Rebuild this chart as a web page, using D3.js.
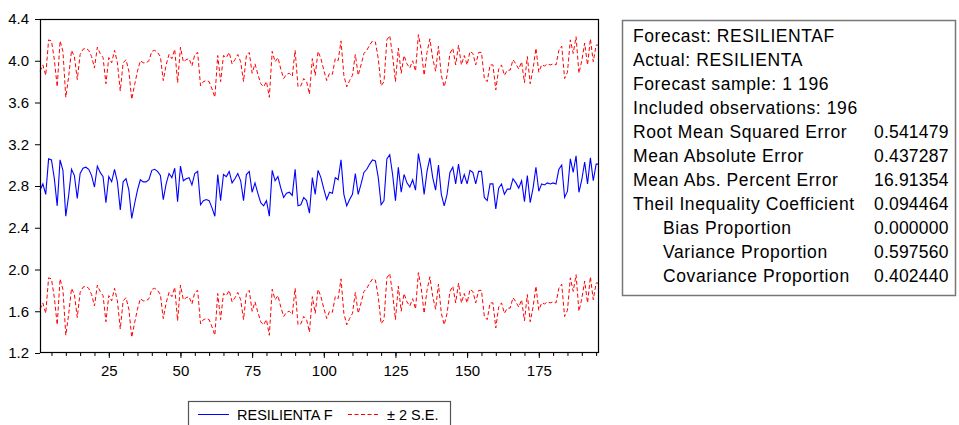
<!DOCTYPE html>
<html>
<head>
<meta charset="utf-8">
<script src="https://cdn.jsdelivr.net/npm/d3@7"></script>
<style>
  body { margin: 0; background: #fff; }
  svg { font-family: "Liberation Sans", Arial, sans-serif; }
</style>
</head>
<body>
<div id="chart"></div>
<script>
(function () {

  // Forecast series (RESILIENTAF), observations 1..196
  const forecast = [
    2.76, 2.82, 2.72, 3.06, 3.05, 2.87, 2.61, 3.05, 2.95, 2.51,
    2.71, 2.96, 2.90, 2.68, 2.92, 2.97, 2.98, 2.96, 2.90, 2.79,
    2.99, 2.93, 2.89, 2.64, 2.89, 2.84, 2.96, 2.84, 2.57, 2.84,
    2.87, 2.76, 2.49, 2.63, 2.76, 2.86, 2.84, 2.84, 2.86, 2.95,
    2.96, 2.94, 2.90, 2.67, 2.82, 2.92, 2.88, 2.97, 2.65, 2.99,
    2.85, 2.87, 2.88, 2.81, 2.92, 2.94, 2.62, 2.66, 2.67, 2.66,
    2.59, 2.51, 2.91, 2.66, 2.91, 2.89, 2.94, 2.83, 2.87, 2.92,
    2.85, 2.66, 2.91, 2.94, 2.74, 2.83, 2.73, 2.64, 2.61, 2.66,
    2.51, 2.95, 2.85, 2.89, 2.78, 2.69, 2.73, 2.74, 2.71, 2.96,
    2.61, 2.62, 2.69, 2.66, 2.54, 2.88, 2.72, 2.95, 2.88, 2.77,
    2.67, 2.74, 2.73, 2.88, 2.86, 3.05, 2.72, 2.61, 2.67, 2.72,
    2.92, 2.72, 2.82, 2.93, 2.96, 3.01, 3.05, 3.04, 2.88, 2.62,
    2.66, 3.06, 3.10, 2.91, 2.66, 2.98, 2.74, 2.91, 2.83, 2.79,
    2.86, 2.76, 3.11, 2.96, 2.72, 2.94, 3.07, 2.88, 2.76, 3.00,
    2.72, 2.61, 2.72, 2.93, 2.98, 2.82, 3.01, 2.82, 2.91, 2.82,
    2.95, 2.93, 2.82, 2.94, 2.94, 2.69, 2.66, 2.82, 2.82, 2.58,
    2.78, 2.82, 2.72, 2.77, 2.77, 2.87, 2.83, 2.78, 2.85, 2.65,
    2.90, 2.64, 2.78, 2.98, 2.75, 2.82, 2.81, 2.83, 2.82, 2.83,
    2.82, 2.96, 3.00, 2.69, 2.75, 3.06, 2.93, 3.09, 2.74, 2.86,
    3.03, 2.82, 3.07, 2.85, 3.01, 3.01
  ]

  // two standard errors, width of the band around the forecast
  const twoSE = 1.14

  const yTicks = [1.2, 1.6, 2.0, 2.4, 2.8, 3.2, 3.6, 4.0, 4.4]
  const xTicks = [25, 50, 75, 100, 125, 150, 175]
  const xMinorTicks = d3.range(5, 196, 5)

  const legendLabels = ["RESILIENTA F", "\u00b1 2 S.E."]

  const statLabels = [
    "Forecast: RESILIENTAF",
    "Actual: RESILIENTA",
    "Forecast sample: 1 196",
    "Included observations: 196",
    "Root Mean Squared Error",
    "Mean Absolute Error",
    "Mean Abs. Percent Error",
    "Theil Inequality Coefficient",
    "Bias Proportion",
    "Variance Proportion",
    "Covariance Proportion"
  ]
  const statValues = ["", "", "", "", "0.541479", "0.437287", "16.91354",
    "0.094464", "0.000000", "0.597560", "0.402440"]
  const statIndent = [0, 0, 0, 0, 0, 0, 0, 0, 1, 1, 1]

  const W = 959, H = 425

  const svg = d3.select("#chart").append("svg")
      .attr("width", W)
      .attr("height", H)

  const data = forecast.map((v, i) => ({ obs: i + 1, f: v, lo: v - twoSE, hi: v + twoSE }))

  const x = d3.scaleLinear().domain([1, 196]).range([40, 599])
  const y = d3.scaleLinear().domain([1.2, 4.4]).range([353, 19])

  // Left axis
  const yAxis = d3.axisLeft(y)
    .tickValues(yTicks)
    .tickFormat(d3.format(".1f"))
    .tickSize(5)
    .tickPadding(6)
  svg.append("g")
    .attr("transform", "translate(40,0)")
    .call(yAxis)
    .call(g => g.select(".domain").remove())
    .call(g => g.selectAll("text").attr("font-size", 15).attr("fill", "#000")
      .attr("font-family", "Liberation Sans, Arial, sans-serif"))

  // Bottom axis, minor ticks then major
  svg.append("g")
    .attr("transform", "translate(0,353)")
    .call(d3.axisBottom(x).tickValues(xMinorTicks).tickSize(3).tickFormat(""))
    .call(g => g.select(".domain").remove())
  svg.append("g")
    .attr("transform", "translate(0,353)")
    .call(d3.axisBottom(x).tickValues(xTicks).tickSize(5).tickPadding(7))
    .call(g => g.select(".domain").remove())
    .call(g => g.selectAll("text").attr("font-size", 15).attr("fill", "#000")
      .attr("font-family", "Liberation Sans, Arial, sans-serif"))

  // Lines
  const line = key => d3.line().x(d => x(d.obs)).y(d => y(d[key]))

  svg.append("path")
    .datum(data)
    .attr("fill", "none")
    .attr("stroke", "#ff0000")
    .attr("stroke-width", 1)
    .attr("stroke-dasharray", "4,2.5")
    .attr("d", line("hi"))

  svg.append("path")
    .datum(data)
    .attr("fill", "none")
    .attr("stroke", "#ff0000")
    .attr("stroke-width", 1)
    .attr("stroke-dasharray", "4,2.5")
    .attr("d", line("lo"))

  svg.append("path")
    .datum(data)
    .attr("fill", "none")
    .attr("stroke", "#0000ff")
    .attr("stroke-width", 1.1)
    .attr("d", line("f"))

  // Plot frame
  svg.append("rect")
    .attr("x", 40.5)
    .attr("y", 19.5)
    .attr("width", 558)
    .attr("height", 333)
    .attr("fill", "none")
    .attr("stroke", "#000")
    .attr("stroke-width", 1.2)

  // Legend
  const legend = svg.append("g")
  legend.append("rect")
    .attr("x", 188.5).attr("y", 401.5)
    .attr("width", 262).attr("height", 30)
    .attr("fill", "#fff")
    .attr("stroke", "#555")
    .attr("stroke-width", 1.2)
  legend.append("line")
    .attr("x1", 198).attr("x2", 229).attr("y1", 414.5).attr("y2", 414.5)
    .attr("stroke", "#0000ff").attr("stroke-width", 1)
  legend.append("text")
    .attr("x", 237).attr("y", 419.5)
    .attr("font-size", 14.5)
    .text(legendLabels[0])
  legend.append("line")
    .attr("x1", 348).attr("x2", 379).attr("y1", 414.5).attr("y2", 414.5)
    .attr("stroke", "#ff0000").attr("stroke-width", 1)
    .attr("stroke-dasharray", "4,2.5")
  legend.append("text")
    .attr("x", 387).attr("y", 419.5)
    .attr("font-size", 14.5)
    .text(legendLabels[1])

  // Statistics table
  const table = svg.append("g")
  table.append("rect")
    .attr("x", 622.5).attr("y", 20.5)
    .attr("width", 333).attr("height", 275)
    .attr("fill", "#fff")
    .attr("stroke", "#777")
    .attr("stroke-width", 1.5)

  const rowY = d3.scaleLinear().domain([0, 10]).range([41.7, 282])

  table.selectAll("text.label")
    .data(statLabels)
    .join("text")
    .attr("class", "label")
    .attr("x", (d, i) => statIndent[i] ? 663 : 633)
    .attr("y", (d, i) => rowY(i))
    .attr("font-size", 17.5)
    .attr("letter-spacing", 0.6)
    .text(d => d)

  table.selectAll("text.value")
    .data(statValues)
    .join("text")
    .attr("class", "value")
    .attr("x", 874)
    .attr("y", (d, i) => rowY(i))
    .attr("font-size", 17.5)
    .attr("letter-spacing", 0.2)
    .text(d => d)

})();
</script>
</body>
</html>
